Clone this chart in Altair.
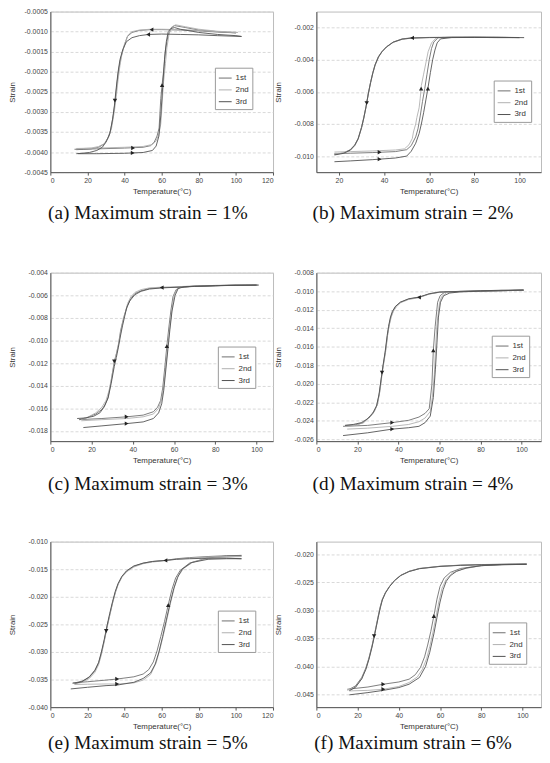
import altair as alt
import pandas as pd

CYCLES = ["1st", "2nd", "3rd"]
COLORS = ["#6e6e6e", "#b0b0b0", "#505050"]

# ---------------- (a) Maximum strain = 1% ----------------
A1_T = [13, 25, 40, 50, 54, 56, 57.5, 58.6, 59.5, 60.2, 61.3, 62, 63.4, 65.2, 67, 73, 80, 90, 100,
        90, 80, 70, 60, 54, 48, 44, 41.5, 39.5, 38, 37, 36, 35, 34, 32.5, 31, 29, 26, 22, 18, 14]
A1_S = [-0.00393, -0.00392, -0.00390, -0.00388, -0.00384, -0.00375, -0.00360, -0.00340, -0.00267, -0.00233,
        -0.00187, -0.00146, -0.00110, -0.00090, -0.00085, -0.00090, -0.00096, -0.00100, -0.00103,
        -0.00101, -0.00098, -0.00096, -0.00095, -0.00095, -0.00097, -0.00102, -0.00112, -0.00140, -0.00165,
        -0.00190, -0.00225, -0.00270, -0.00305, -0.00345, -0.00365, -0.00380, -0.00388, -0.00392, -0.00393, -0.00394]
A2_T = [14, 25, 40, 50, 55, 57, 58.5, 59.5, 60.5, 61, 62, 62.8, 64, 65.5, 67.5, 73, 80, 90, 101,
        90, 80, 70, 60, 54, 48, 44, 42, 40, 38.5, 37.5, 36.5, 35.5, 34.5, 33, 31.5, 29.5, 26, 22, 18, 14]
A2_S = [-0.00391, -0.00390, -0.00388, -0.00386, -0.00381, -0.00372, -0.00355, -0.00330, -0.00260, -0.00225,
        -0.00180, -0.00140, -0.00105, -0.00088, -0.00083, -0.00088, -0.00094, -0.00099, -0.00102,
        -0.00100, -0.00097, -0.00095, -0.00094, -0.00094, -0.00096, -0.00100, -0.00108, -0.00130, -0.00158,
        -0.00185, -0.00220, -0.00262, -0.00298, -0.00340, -0.00362, -0.00378, -0.00386, -0.00390, -0.00391, -0.00392]
A3_T = [15, 25, 40, 50, 55, 57, 58.5, 59.5, 60.5, 61.5, 62.5, 63.5, 65, 67, 70, 80, 90, 100, 103,
        90, 80, 70, 60, 53, 48, 44, 41, 39, 37.5, 36.5, 35.5, 34.5, 33.5, 32, 30, 28, 25, 21, 17, 14]
A3_S = [-0.00404, -0.00404, -0.00403, -0.00401, -0.00396, -0.00385, -0.00360, -0.00310, -0.00240, -0.00170,
        -0.00125, -0.00100, -0.00092, -0.00090, -0.00094, -0.00102, -0.00107, -0.00110, -0.00112,
        -0.00110, -0.00108, -0.00107, -0.00106, -0.00107, -0.00110, -0.00115, -0.00125, -0.00145, -0.00170,
        -0.00200, -0.00240, -0.00285, -0.00320, -0.00355, -0.00375, -0.00388, -0.00396, -0.00401, -0.00403, -0.00404]
A_ARROW_T = [44.6, 44.4, 60.2, 34.8, 54.5, 52.7]
A_ARROW_S = [-0.00390, -0.00402, -0.00233, -0.00272, -0.00095, -0.00107]
A_ARROW_D = ["r", "r", "u", "d", "l", "l"]

# ---------------- (b) Maximum strain = 2% ----------------
B1_T = [18, 25, 35, 45, 50, 52, 54, 55, 56, 57, 58, 59, 60, 61, 62, 64, 70, 80, 90, 102,
        90, 80, 70, 60, 52, 48, 44, 41, 39, 37.5, 36, 35, 34, 33, 32, 31, 30, 28.5, 27, 25, 22, 18]
B1_S = [-0.00985, -0.00982, -0.00978, -0.00972, -0.00960, -0.00935, -0.00880, -0.00830, -0.00750, -0.00660,
        -0.00580, -0.00490, -0.00400, -0.00330, -0.00290, -0.00262, -0.00260, -0.00259, -0.00260, -0.00262,
        -0.00261, -0.00260, -0.00260, -0.00261, -0.00264, -0.00270, -0.00290, -0.00320, -0.00350, -0.00380,
        -0.00430, -0.00480, -0.00540, -0.00610, -0.00690, -0.00760, -0.00820, -0.00890, -0.00930, -0.00960,
        -0.00980, -0.00990]
B2_T = [18, 25, 35, 45, 49, 51, 52.5, 53, 54, 54.5, 55.5, 56, 56.5, 57.5, 58.5, 59.5, 61, 63, 70, 80, 90, 100,
        90, 80, 70, 60, 52, 48, 44, 41, 39, 37.5, 36, 35, 34, 33, 32, 31, 30, 28.5, 27, 25, 22, 18]
B2_S = [-0.00975, -0.00972, -0.00968, -0.00962, -0.00955, -0.00930, -0.00890, -0.00850, -0.00800, -0.00760,
        -0.00700, -0.00640, -0.00560, -0.00490, -0.00420, -0.00350, -0.00295, -0.00265, -0.00260, -0.00260,
        -0.00260, -0.00262,
        -0.00262, -0.00261, -0.00261, -0.00262, -0.00266, -0.00273, -0.00292, -0.00322, -0.00352, -0.00385,
        -0.00435, -0.00485, -0.00545, -0.00615, -0.00695, -0.00765, -0.00825, -0.00895, -0.00935, -0.00965,
        -0.00982, -0.00985]
B3_T = [18, 25, 35, 45, 50, 52, 54, 55.5, 56.5, 57.5, 58.5, 59.5, 60.5, 61.5, 62.5, 63.5, 65, 70, 80, 90, 100,
        90, 80, 70, 60, 52, 48, 44, 41, 39, 37.5, 36, 35, 34, 33, 32, 31, 30, 28.5, 27, 25, 22, 18]
B3_S = [-0.01035, -0.01030, -0.01022, -0.01012, -0.01000, -0.00970, -0.00920, -0.00860, -0.00800, -0.00730,
        -0.00650, -0.00570, -0.00480, -0.00400, -0.00340, -0.00295, -0.00270, -0.00262, -0.00261, -0.00261,
        -0.00262,
        -0.00262, -0.00261, -0.00261, -0.00262, -0.00265, -0.00272, -0.00291, -0.00321, -0.00351, -0.00383,
        -0.00433, -0.00483, -0.00543, -0.00613, -0.00693, -0.00763, -0.00823, -0.00893, -0.00933, -0.00963,
        -0.00983, -0.00993]
B_ARROW_T = [38, 38, 56.4, 59.4, 52.4, 32.3]
B_ARROW_S = [-0.00976, -0.01019, -0.00580, -0.00580, -0.00264, -0.00670]
B_ARROW_D = ["r", "r", "u", "u", "l", "d"]

# ---------------- (c) Maximum strain = 3% ----------------
C1_T = [14, 25, 37, 45, 50, 52, 53.5, 54.5, 55.5, 56.5, 57.5, 58.5, 59.5, 61, 63, 70, 80, 90, 101,
        90, 80, 70, 60, 54, 48, 44, 41, 39, 37.5, 36, 35, 34, 33, 32, 31, 29.5, 28, 26.5, 25, 22, 18, 14]
C1_S = [-0.01700, -0.01690, -0.01675, -0.01660, -0.01630, -0.01590, -0.01530, -0.01420, -0.01240, -0.01050,
        -0.00880, -0.00730, -0.00610, -0.00550, -0.00530, -0.00520, -0.00515, -0.00510, -0.00510,
        -0.00510, -0.00515, -0.00520, -0.00530, -0.00532, -0.00540, -0.00560, -0.00585, -0.00630, -0.00690,
        -0.00770, -0.00840, -0.00920, -0.01040, -0.01120, -0.01185, -0.01360, -0.01500, -0.01570, -0.01610,
        -0.01650, -0.01680, -0.01700]
C2_T = [15, 25, 37, 45, 50, 52.5, 54, 55, 56, 57, 58, 59, 60, 61.5, 63.5, 70, 80, 90, 100,
        90, 80, 70, 60, 54, 48, 44, 41, 39, 37.5, 36.5, 35.5, 34.5, 33.5, 32.5, 31.5, 30, 28.5, 27, 25, 22, 18, 15]
C2_S = [-0.01710, -0.01700, -0.01690, -0.01675, -0.01650, -0.01600, -0.01520, -0.01400, -0.01220, -0.01040,
        -0.00870, -0.00720, -0.00600, -0.00545, -0.00525, -0.00518, -0.00513, -0.00510, -0.00508,
        -0.00510, -0.00513, -0.00518, -0.00525, -0.00528, -0.00535, -0.00550, -0.00575, -0.00615, -0.00670,
        -0.00740, -0.00810, -0.00890, -0.00990, -0.01080, -0.01160, -0.01300, -0.01440, -0.01530, -0.01590,
        -0.01640, -0.01680, -0.01700]
C3_T = [16, 25, 37, 45, 50, 52.5, 54, 55, 56, 57, 58, 59, 60.5, 62, 65, 70, 80, 90, 100,
        90, 80, 70, 60, 54, 48, 44, 41, 38.5, 37, 36, 35, 34, 33, 32, 31, 29.5, 28, 26, 24, 21, 17, 13]
C3_S = [-0.01770, -0.01755, -0.01735, -0.01720, -0.01690, -0.01640, -0.01560, -0.01440, -0.01260, -0.01080,
        -0.00900, -0.00740, -0.00600, -0.00540, -0.00525, -0.00520, -0.00515, -0.00512, -0.00510,
        -0.00512, -0.00516, -0.00522, -0.00530, -0.00535, -0.00545, -0.00565, -0.00595, -0.00650, -0.00710,
        -0.00790, -0.00870, -0.00960, -0.01060, -0.01150, -0.01230, -0.01380, -0.01510, -0.01590, -0.01640,
        -0.01670, -0.01685, -0.01690]
C_ARROW_T = [37, 37, 56.5, 54, 31]
C_ARROW_S = [-0.01675, -0.01735, -0.01050, -0.00532, -0.01185]
C_ARROW_D = ["r", "r", "u", "l", "d"]

# ---------------- (d) Maximum strain = 4% ----------------
D1_T = [13, 25, 37, 45, 50, 53, 55, 56.3, 57, 57.9, 59.1, 60.3, 62.6, 70, 80, 90, 101,
        90, 80, 70, 60, 55, 50, 45, 41, 38.8, 37.5, 36.4, 35.5, 34.8, 33.7, 32.8, 32, 30.8, 29.6, 28, 26.5, 23, 19, 14]
D1_S = [-0.02460, -0.02450, -0.02420, -0.02395, -0.02360, -0.02320, -0.02270, -0.02010, -0.01640, -0.01380,
        -0.01120, -0.01050, -0.01010, -0.01003, -0.01000, -0.00995, -0.00990,
        -0.00992, -0.00998, -0.01003, -0.01010, -0.01030, -0.01067, -0.01085, -0.01120, -0.01160, -0.01210,
        -0.01270, -0.01360, -0.01456, -0.01640, -0.01770, -0.01880, -0.02090, -0.02230, -0.02300, -0.02340,
        -0.02420, -0.02445, -0.02450]
D2_T = [15, 25, 37, 45, 50, 53, 55.5, 56.5, 57.5, 58, 58.8, 60, 61, 63.5, 70, 80, 90, 101,
        90, 80, 70, 60, 55, 50, 45, 41, 39, 37.5, 36.5, 35.5, 34.8, 34, 33, 32.2, 31, 29.8, 28.3, 26.5, 23, 19, 14]
D2_S = [-0.02490, -0.02480, -0.02460, -0.02440, -0.02410, -0.02370, -0.02300, -0.02150, -0.01900, -0.01650,
        -0.01350, -0.01130, -0.01060, -0.01015, -0.01005, -0.01000, -0.00995, -0.00990,
        -0.00995, -0.01000, -0.01005, -0.01012, -0.01032, -0.01070, -0.01090, -0.01125, -0.01170, -0.01220,
        -0.01280, -0.01370, -0.01460, -0.01620, -0.01760, -0.01870, -0.02080, -0.02220, -0.02300, -0.02350,
        -0.02420, -0.02450, -0.02460]
D3_T = [13, 25, 37, 45, 50, 53, 55.5, 57, 58, 58.8, 59.5, 60.5, 62, 65, 70, 80, 90, 101,
        90, 80, 70, 60, 55, 50, 45, 41, 38.5, 37, 36, 35.2, 34.5, 33.5, 32.5, 31.5, 30.5, 29.3, 27.5, 25.5, 22, 18, 14]
D3_S = [-0.02560, -0.02530, -0.02490, -0.02475, -0.02460, -0.02420, -0.02350, -0.02150, -0.01850, -0.01550,
        -0.01280, -0.01120, -0.01050, -0.01020, -0.01008, -0.01000, -0.00995, -0.00988,
        -0.00990, -0.00996, -0.01002, -0.01010, -0.01028, -0.01064, -0.01082, -0.01118, -0.01165, -0.01220,
        -0.01290, -0.01380, -0.01480, -0.01660, -0.01800, -0.01960, -0.02120, -0.02240, -0.02320, -0.02370,
        -0.02420, -0.02440, -0.02450]
D_ARROW_T = [37, 37, 57, 50, 32]
D_ARROW_S = [-0.02420, -0.02490, -0.01640, -0.01067, -0.01880]
D_ARROW_D = ["r", "r", "u", "l", "d"]

# ---------------- (e) Maximum strain = 5% ----------------
E1_T = [12, 20, 30, 36, 45, 50, 53, 55.5, 57.5, 59.5, 61.5, 63.5, 65.5, 67.5, 70, 75, 84, 95, 103,
        95, 85, 75, 68, 62, 55, 50, 45, 41, 38.5, 36.5, 35, 33.5, 32, 30.5, 29, 27.5, 26, 24, 21, 17, 12]
E1_S = [-0.03560, -0.03540, -0.03510, -0.03490, -0.03450, -0.03400, -0.03320, -0.03180, -0.02980, -0.02720,
        -0.02450, -0.02150, -0.01870, -0.01660, -0.01520, -0.01390, -0.01300, -0.01260, -0.01250,
        -0.01255, -0.01270, -0.01290, -0.01310, -0.01340, -0.01360, -0.01390, -0.01450, -0.01540, -0.01640,
        -0.01770, -0.01920, -0.02110, -0.02330, -0.02550, -0.02800, -0.03020, -0.03200, -0.03340, -0.03460,
        -0.03530, -0.03570]
E2_T = [13, 20, 30, 36, 45, 50, 54, 57, 59, 61, 63, 65, 67, 69, 72, 77, 85, 95, 103,
        95, 85, 75, 68, 62, 55, 50, 45, 41, 38.5, 36.5, 35, 33.5, 32, 30.5, 29, 27.5, 26, 24, 21, 17, 13]
E2_S = [-0.03590, -0.03585, -0.03580, -0.03580, -0.03560, -0.03510, -0.03410, -0.03200, -0.02960, -0.02680,
        -0.02380, -0.02080, -0.01810, -0.01620, -0.01480, -0.01370, -0.01300, -0.01280, -0.01270,
        -0.01270, -0.01280, -0.01300, -0.01320, -0.01345, -0.01370, -0.01400, -0.01460, -0.01550, -0.01650,
        -0.01780, -0.01930, -0.02120, -0.02340, -0.02570, -0.02820, -0.03050, -0.03230, -0.03370, -0.03480,
        -0.03550, -0.03580]
E3_T = [11, 20, 30, 36, 45, 50, 54, 56.5, 58.5, 60.5, 62.5, 64.5, 66.5, 68.5, 71, 76, 85, 95, 103,
        95, 85, 75, 68, 62, 55, 50, 45, 41, 38.5, 36.5, 35, 33.5, 32, 30.5, 29, 27.5, 26, 24, 21, 17, 13]
E3_S = [-0.03670, -0.03640, -0.03610, -0.03600, -0.03550, -0.03480, -0.03380, -0.03220, -0.03000, -0.02720,
        -0.02420, -0.02120, -0.01850, -0.01650, -0.01500, -0.01380, -0.01320, -0.01310, -0.01310,
        -0.01300, -0.01300, -0.01310, -0.01320, -0.01340, -0.01360, -0.01390, -0.01440, -0.01530, -0.01630,
        -0.01760, -0.01900, -0.02090, -0.02300, -0.02530, -0.02780, -0.03000, -0.03190, -0.03330, -0.03450,
        -0.03540, -0.03570]
E_ARROW_T = [36, 36, 63.5, 62, 30.1]
E_ARROW_S = [-0.03490, -0.03580, -0.02150, -0.01340, -0.02620]
E_ARROW_D = ["r", "r", "u", "l", "d"]

# ---------------- (f) Maximum strain = 6% ----------------
F1_T = [15, 25, 32.5, 40, 45, 48, 50.5, 52.5, 54, 55.5, 57, 58.5, 60, 62, 65, 70, 80, 90, 102,
        90, 80, 70, 60, 50, 45, 41, 38, 35.5, 33.5, 32, 31, 30, 29, 28, 27, 25.5, 24, 22, 19, 16]
F1_S = [-0.04410, -0.04370, -0.04320, -0.04280, -0.04230, -0.04150, -0.04020, -0.03830, -0.03620, -0.03380,
        -0.03100, -0.02800, -0.02570, -0.02420, -0.02320, -0.02250, -0.02200, -0.02180, -0.02170,
        -0.02175, -0.02180, -0.02190, -0.02210, -0.02250, -0.02300, -0.02370, -0.02460, -0.02570, -0.02680,
        -0.02800, -0.02930, -0.03100, -0.03280, -0.03460, -0.03630, -0.03850, -0.04030, -0.04200, -0.04350,
        -0.04410]
F2_T = [16, 25, 32.5, 40, 45, 49, 51.5, 53.5, 55, 56.5, 58, 59.5, 61, 63, 66, 71, 80, 90, 102,
        90, 80, 70, 60, 50, 45, 41, 38, 35.5, 33.5, 32, 31, 30, 29, 28, 27, 25.5, 24, 22, 19, 15]
F2_S = [-0.04440, -0.04430, -0.04410, -0.04360, -0.04290, -0.04190, -0.04050, -0.03860, -0.03650, -0.03400,
        -0.03120, -0.02830, -0.02600, -0.02440, -0.02330, -0.02260, -0.02200, -0.02180, -0.02170,
        -0.02175, -0.02182, -0.02192, -0.02212, -0.02252, -0.02302, -0.02372, -0.02462, -0.02572, -0.02685,
        -0.02810, -0.02950, -0.03120, -0.03300, -0.03480, -0.03650, -0.03870, -0.04050, -0.04220, -0.04370,
        -0.04430]
F3_T = [16, 25, 32.5, 40, 45, 50, 53, 55, 57, 58.5, 60, 61.5, 63, 65, 68, 73, 80, 90, 102,
        90, 80, 70, 60, 50, 45, 41, 38, 35.5, 33.5, 32, 31, 30, 29, 28, 27, 25.5, 24, 22, 19, 16]
F3_S = [-0.04510, -0.04470, -0.04430, -0.04380, -0.04320, -0.04200, -0.04000, -0.03750, -0.03420, -0.03130,
        -0.02850, -0.02630, -0.02480, -0.02380, -0.02300, -0.02240, -0.02200, -0.02185, -0.02175,
        -0.02178, -0.02184, -0.02194, -0.02214, -0.02254, -0.02305, -0.02375, -0.02465, -0.02575, -0.02690,
        -0.02815, -0.02955, -0.03125, -0.03305, -0.03485, -0.03655, -0.03875, -0.04055, -0.04225, -0.04375,
        -0.04435]
F_ARROW_T = [32.5, 32.5, 57, 28]
F_ARROW_S = [-0.04320, -0.04410, -0.03100, -0.03460]
F_ARROW_D = ["r", "r", "u", "d"]

CAPTIONS = ["(a) Maximum strain = 1%", "(b) Maximum strain = 2%", "(c) Maximum strain = 3%",
            "(d) Maximum strain = 4%", "(e) Maximum strain = 5%", "(f) Maximum strain = 6%"]


def loop_df(Ts, Ss):
    rows = []
    for c, T, S in zip(CYCLES, Ts, Ss):
        assert len(T) == len(S), (c, len(T), len(S))
        for i, (t, s) in enumerate(zip(T, S)):
            rows.append({"cycle": c, "i": i, "T": t, "S": s})
    return pd.DataFrame(rows)


def panel(Ts, Ss, aT, aS, aD, xdom, xticks, ydom, yticks, yfmt, w, h, caption, lx, ly, cdx, coff):
    df = loop_df(Ts, Ss)
    adf = pd.DataFrame({"T": aT, "S": aS, "dir": aD})
    x = alt.X("T:Q", scale=alt.Scale(domain=xdom, nice=False, zero=False),
              axis=alt.Axis(values=xticks, tickCount=len(xticks) + 2, title="Temperature(°C)", format="d"))
    y = alt.Y("S:Q", scale=alt.Scale(domain=ydom, nice=False, zero=False),
              axis=alt.Axis(values=yticks, tickCount=len(yticks) + 2, title="Strain",
                            labelExpr=f"replace(format(datum.value, '{yfmt}'), '\u2212', '-')"))
    lines = alt.Chart(df).mark_line(strokeWidth=0.9, clip=True).encode(
        x=x, y=y,
        color=alt.Color("cycle:N", scale=alt.Scale(domain=CYCLES, range=COLORS),
                        legend=alt.Legend(title=None, orient="none", legendX=lx, legendY=ly,
                                          symbolType="stroke", symbolSize=170, symbolStrokeWidth=1,
                                          labelFont="Liberation Sans", labelFontSize=8, labelColor="#333",
                                          labelOffset=3, rowPadding=0, padding=3,
                                          strokeColor="#999", fillColor="white")),
        order="i:Q",
    )
    pts = alt.Chart(adf).mark_point(filled=True, size=20, color="#222", opacity=1, strokeWidth=0).encode(
        x="T:Q", y="S:Q",
        shape=alt.Shape("dir:N", scale=alt.Scale(domain=["r", "l", "u", "d"],
                                                  range=["triangle-right", "triangle-left",
                                                         "triangle-up", "triangle-down"]),
                        legend=None),
    )
    return alt.layer(lines, pts).properties(
        width=w, height=h,
        title=alt.TitleParams(caption, orient="bottom", anchor="middle", font="Liberation Serif",
                              fontSize=19.5, fontWeight="normal", color="#111", offset=coff, dx=cdx),
    )


pa = panel([A1_T, A2_T, A3_T], [A1_S, A2_S, A3_S], A_ARROW_T, A_ARROW_S, A_ARROW_D,
           [0, 120], [0, 20, 40, 60, 80, 100, 120], [-0.0045, -0.0005],
           [-0.0045, -0.0040, -0.0035, -0.0030, -0.0025, -0.0020, -0.0015, -0.0010, -0.0005], ".4f",
           226, 163, CAPTIONS[0], 167, 57, -14, 9)
pb = panel([B1_T, B2_T, B3_T], [B1_S, B2_S, B3_S], B_ARROW_T, B_ARROW_S, B_ARROW_D,
           [10, 109.5], [20, 40, 60, 80, 100], [-0.011, -0.001],
           [-0.010, -0.008, -0.006, -0.004, -0.002], ".3f",
           228, 163, CAPTIONS[1], 180, 70, -16, 9)
pc = panel([C1_T, C2_T, C3_T], [C1_S, C2_S, C3_S], C_ARROW_T, C_ARROW_S, C_ARROW_D,
           [0, 108], [0, 20, 40, 60, 80, 100], [-0.0189, -0.004],
           [-0.018, -0.016, -0.014, -0.012, -0.010, -0.008, -0.006, -0.004], ".3f",
           226, 171, CAPTIONS[2], 170, 75, -14, 11)
pd_ = panel([D1_T, D2_T, D3_T], [D1_S, D2_S, D3_S], D_ARROW_T, D_ARROW_S, D_ARROW_D,
            [0, 109.5], [0, 20, 40, 60, 80, 100], [-0.0262, -0.008],
            [-0.026, -0.024, -0.022, -0.020, -0.018, -0.016, -0.014, -0.012, -0.010, -0.008], ".3f",
            228, 171, CAPTIONS[3], 178, 64, -16, 11)
pe = panel([E1_T, E2_T, E3_T], [E1_S, E2_S, E3_S], E_ARROW_T, E_ARROW_S, E_ARROW_D,
           [0, 120], [0, 20, 40, 60, 80, 100, 120], [-0.040, -0.010],
           [-0.040, -0.035, -0.030, -0.025, -0.020, -0.015, -0.010], ".3f",
           226, 168, CAPTIONS[4], 170, 70, -14, 3)
pf = panel([F1_T, F2_T, F3_T], [F1_S, F2_S, F3_S], F_ARROW_T, F_ARROW_S, F_ARROW_D,
           [0, 109], [0, 20, 40, 60, 80, 100], [-0.0473, -0.0177],
           [-0.045, -0.040, -0.035, -0.030, -0.025, -0.020], ".3f",
           228, 168, CAPTIONS[5], 175, 82, -16, 3)

chart = alt.concat(pa, pb, pc, pd_, pe, pf, columns=2, spacing={"row": 102, "column": 44},
                   bounds="flush").resolve_scale(
    color="independent", shape="independent"
).properties(
    padding={"top": -7, "left": 0, "right": 0, "bottom": 0}, background="white"
).configure_view(
    stroke="#bbbbbb", strokeWidth=1
).configure_axis(
    labelFont="Liberation Sans", labelFontSize=7, labelColor="#444", labelOverlap=False,
    titleFont="Liberation Sans", titleFontSize=8, titleFontWeight="normal", titleColor="#333",
    domainColor="#555", domainWidth=1, tickColor="#555",
    gridColor="#cfcfcf", gridDash=[3, 2], gridWidth=0.8,
).configure_axisX(
    grid=False, tickSize=3, labelPadding=2, titlePadding=4
).configure_axisY(
    grid=True, ticks=False, labelPadding=3, minExtent=29, maxExtent=29, titlePadding=5
)

chart.save("out.html", embed_options={"renderer": "svg", "actions": False})
